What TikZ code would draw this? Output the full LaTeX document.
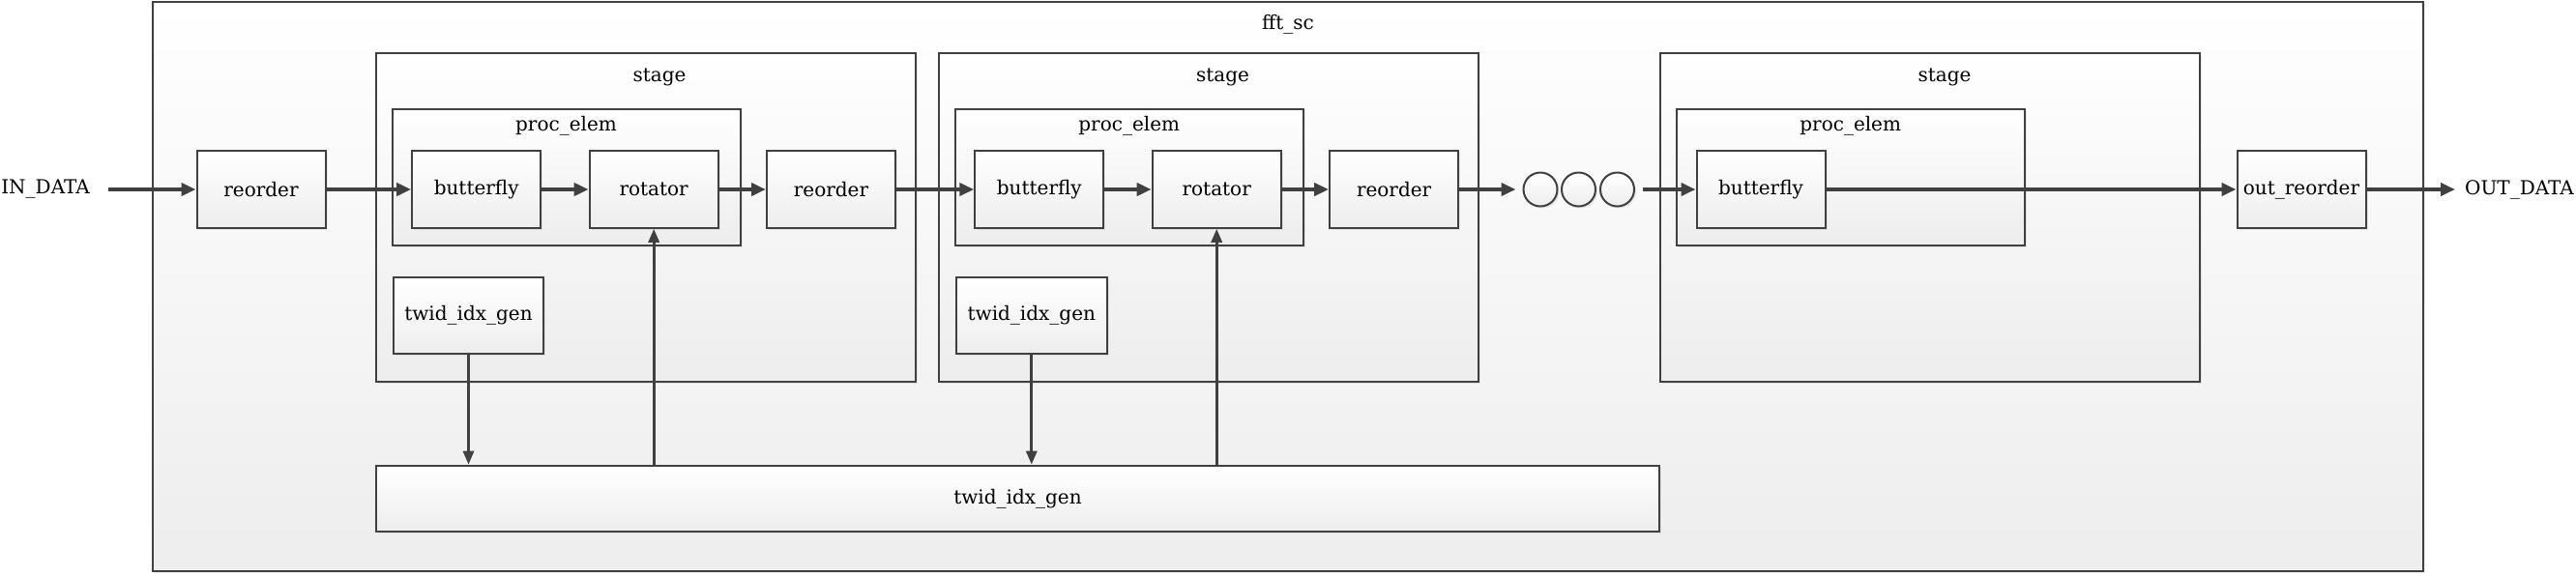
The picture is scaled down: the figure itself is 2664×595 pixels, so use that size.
\documentclass[tikz,border=0pt]{standalone}
\usepackage{fontspec}
\setmainfont{DejaVu Serif}
\usetikzlibrary{arrows.meta,shadows}
\definecolor{edge}{HTML}{404040}
\begin{document}
\begin{tikzpicture}[x=1pt,y=-1pt,
  box/.style={draw=edge, line width=2pt, top color=white, bottom color=black!7,
    inner sep=0pt, font=\fontsize{20}{24}\selectfont,
    drop shadow={opacity=0.15, shadow xshift=2pt, shadow yshift=-2pt}},
  smallbox/.style={box, minimum width=133pt, minimum height=79.5pt},
  lbl/.style={inner sep=0pt, font=\fontsize{20}{24}\selectfont},
  ring/.style={box, circle, minimum size=35pt},
  data/.style={draw=edge, line width=4pt, -{Triangle[length=15pt,width=13pt]}},
  ctl/.style={draw=edge, line width=3pt, -{Triangle[length=14pt,width=11pt]}}
]
\useasboundingbox (0,0) rectangle (2664,595);
% containers
\node[box, minimum width=2348pt, minimum height=589pt] (fft) at (1332,296.5) {};
\node[lbl] (fftlbl) at (1332,25) {fft\_sc};

\node[box, minimum width=558.5pt, minimum height=340pt] (st1) at (667.75,224.5) {};
\node[lbl] (st1lbl) at (682,80) {stage};
\node[box, minimum width=558pt, minimum height=340pt] (st2) at (1250,224.5) {};
\node[lbl] (st2lbl) at (1264.5,80) {stage};
\node[box, minimum width=558pt, minimum height=340pt] (st3) at (1996,224.5) {};
\node[lbl] (st3lbl) at (2011,80) {stage};

\node[box, minimum width=360pt, minimum height=141.6pt] (pe1) at (585.5,183.5) {};
\node[lbl] (pe1lbl) at (585.5,130) {proc\_elem};
\node[box, minimum width=360pt, minimum height=141.6pt] (pe2) at (1167.75,183.5) {};
\node[lbl] (pe2lbl) at (1167.75,130) {proc\_elem};
\node[box, minimum width=360pt, minimum height=141.6pt] (pe3) at (1913.7,183.5) {};
\node[lbl] (pe3lbl) at (1913.7,130) {proc\_elem};

% blocks
\node[lbl, anchor=east] (in) at (93,196) {IN\_DATA};
\node[smallbox] (ro0) at (270,196) {reorder};
\node[smallbox] (bf1) at (492.7,196) {butterfly};
\node[smallbox] (rt1) at (676.2,196) {rotator};
\node[smallbox] (ro1) at (859.5,196) {reorder};
\node[smallbox] (bf2) at (1074.8,196) {butterfly};
\node[smallbox] (rt2) at (1258.2,196) {rotator};
\node[smallbox] (ro2) at (1441.6,196) {reorder};
\node[ring] (c1) at (1593,196) {};
\node[ring] (c2) at (1632.5,196) {};
\node[ring] (c3) at (1672.5,196) {};
\node[smallbox] (bf3) at (1821,196) {butterfly};
\node[smallbox] (oro) at (2380,196) {out\_reorder};
\node[lbl, anchor=west] (out) at (2549,196) {OUT\_DATA};

\node[box, minimum width=155.4pt, minimum height=79.3pt] (tw1) at (484.5,326.3) {twid\_idx\_gen};
\node[box, minimum width=155.4pt, minimum height=79.3pt] (tw2) at (1066.8,326.3) {twid\_idx\_gen};
\node[box, minimum width=1327pt, minimum height=68.3pt] (tw) at (1052.5,515.85) {twid\_idx\_gen};

% data path
\draw[data, shorten <=19pt] (in.east) -- (ro0);
\draw[data] (ro0) -- (bf1);
\draw[data] (bf1) -- (rt1);
\draw[data] (rt1) -- (ro1);
\draw[data] (ro1) -- (bf2);
\draw[data] (bf2) -- (rt2);
\draw[data] (rt2) -- (ro2);
\draw[data, shorten >=7pt] (ro2) -- (c1);
\draw[data, shorten <=8pt] (c3) -- (bf3);
\draw[data] (bf3) -- (oro);
\draw[data, shorten >=10pt] (oro) -- (out.west);

% twiddle paths
\draw[ctl] (tw1.south) -- (tw1.south |- tw.north);
\draw[ctl] (rt1.south |- tw.north) -- (rt1.south);
\draw[ctl] (tw2.south) -- (tw2.south |- tw.north);
\draw[ctl] (rt2.south |- tw.north) -- (rt2.south);
\end{tikzpicture}
\end{document}
